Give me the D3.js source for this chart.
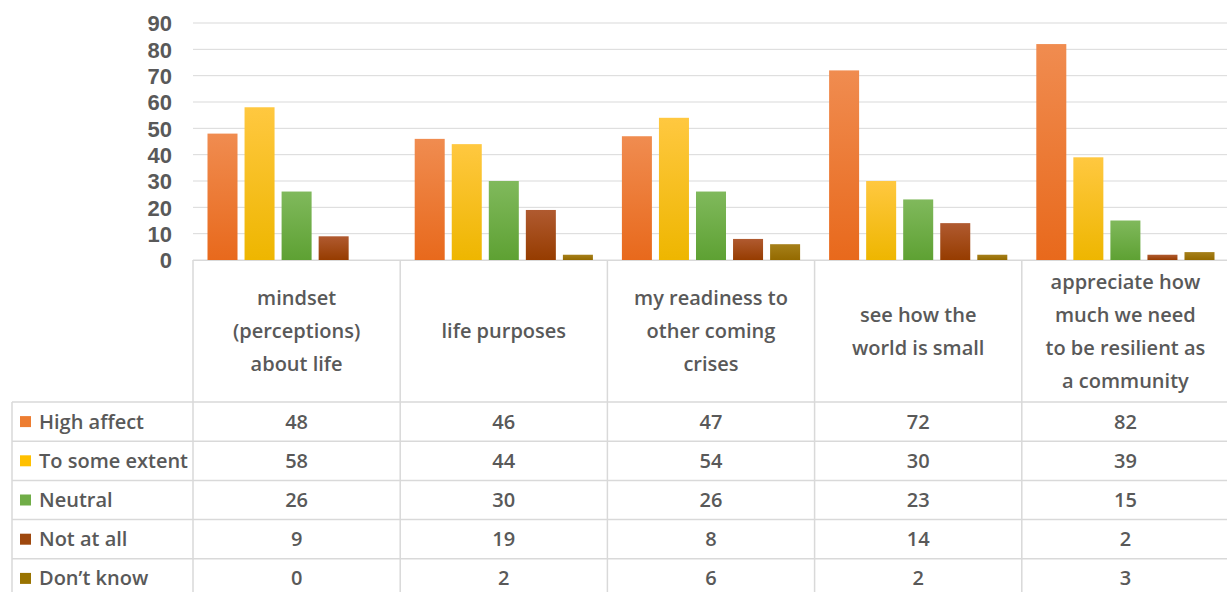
<!DOCTYPE html>
<html><head><meta charset="utf-8">
<script src="https://cdn.jsdelivr.net/npm/d3@7/dist/d3.min.js"></script>
<style>
body{margin:0;background:#fff;overflow:hidden;}
svg{display:block;}
text{font-family:"Open Sans",Lato,sans-serif;font-weight:600;fill:#595959;}
</style></head><body>
<svg id="c" width="1227" height="592"></svg>
<script>
const categories = [
  ["mindset","(perceptions)","about life"],
  ["life purposes"],
  ["my readiness to","other coming","crises"],
  ["see how the","world is small"],
  ["appreciate how","much we need","to be resilient as","a community"]
];
const seriesNames = ["High affect","To some extent","Neutral","Not at all","Don\u2019t know"];
const highAffect   = [48,46,47,72,82];
const toSomeExtent = [58,44,54,30,39];
const neutral      = [26,30,26,23,15];
const notAtAll     = [9,19,8,14,2];
const dontKnow     = [0,2,6,2,3];
const yTicks = [0,10,20,30,40,50,60,70,80,90];

const series = [highAffect,toSomeExtent,neutral,notAtAll,dontKnow];
const colors = [
  ["#F08C50","#E8691C"],
  ["#FFC840","#EEB600"],
  ["#80B95C","#5EA133"],
  ["#B05A30","#963C00"],
  ["#A6801A","#946A00"]
];
const legendColors = ["#ED7D31","#FFC000","#70AD47","#9E480E","#997300"];

const svg = d3.select("#c");
const defs = svg.append("defs");
colors.forEach((c,i)=>{
  const g = defs.append("linearGradient").attr("id","g"+i).attr("x1",0).attr("x2",0).attr("y1",0).attr("y2",1);
  g.append("stop").attr("offset","0%").attr("stop-color",c[0]);
  g.append("stop").attr("offset","100%").attr("stop-color",c[1]);
});

const plotLeft = 193, plotRight = 1229, plotTop = 23, zeroY = 260;
const x = d3.scaleBand().domain(d3.range(categories.length)).range([plotLeft,plotRight]);
const y = d3.scaleLinear().domain([0,90]).range([zeroY, plotTop]);
const inner = d3.scaleBand().domain(d3.range(series.length)).range([14.5, x.bandwidth()-14.5]).paddingInner(0.19).paddingOuter(0);

svg.append("g").selectAll("line").data(yTicks).join("line")
  .attr("x1",plotLeft).attr("x2",plotRight).attr("y1",d=>y(d)).attr("y2",d=>y(d))
  .attr("stroke","#d9d9d9").attr("stroke-width",1);

const yAxis = d3.axisLeft(y).tickValues(yTicks).tickSize(0).tickPadding(0);
const ya = svg.append("g").attr("transform","translate(172,0)").call(yAxis);
ya.select(".domain").remove();
ya.selectAll("text").attr("font-size",22).style("font-family","'Liberation Sans',Arial,sans-serif").style("font-weight",700).style("fill","#595959").attr("dy","0.36em");

series.forEach((s,si)=>{
  svg.append("g").selectAll("rect").data(s).join("rect")
    .attr("x",(d,ci)=>x(ci)+inner(si))
    .attr("width",inner.bandwidth())
    .attr("y",d=>y(d))
    .attr("height",d=>zeroY-y(d))
    .attr("fill","url(#g"+si+")");
});

const rowTop = 402, rowH = 39.2, tableLeft = 12;
const gridC = "#d9d9d9";
const tg = svg.append("g");
tg.append("line").attr("x1",plotLeft).attr("x2",plotRight).attr("y1",zeroY+0.5).attr("y2",zeroY+0.5).attr("stroke",gridC);
d3.range(series.length).forEach(i=>{
  const yy = rowTop + i*rowH;
  tg.append("line").attr("x1",tableLeft).attr("x2",plotRight).attr("y1",yy).attr("y2",yy).attr("stroke",gridC).attr("stroke-width",1.5);
});
tg.append("line").attr("x1",tableLeft).attr("x2",tableLeft).attr("y1",rowTop).attr("y2",592).attr("stroke",gridC).attr("stroke-width",1.5);
d3.range(categories.length+1).forEach(i=>{
  const xx = plotLeft + i*x.step();
  tg.append("line").attr("x1",xx).attr("x2",xx).attr("y1",zeroY).attr("y2",592).attr("stroke",gridC).attr("stroke-width",1.5);
});

categories.forEach((lines,ci)=>{
  const cx = x(ci)+x.bandwidth()/2;
  const lh = 33;
  const midY = (zeroY+rowTop)/2;
  const startY = midY - (lines.length-1)*lh/2;
  lines.forEach((ln,li)=>{
    tg.append("text").attr("x",cx).attr("y",startY+li*lh).attr("dy","0.35em")
      .attr("text-anchor","middle").attr("font-size",20).text(ln);
  });
});

seriesNames.forEach((name,si)=>{
  const cy = rowTop + si*rowH + rowH/2;
  tg.append("rect").attr("x",20).attr("y",cy-5.5).attr("width",11).attr("height",11).attr("fill",legendColors[si]);
  tg.append("text").attr("x",39).attr("y",cy).attr("dy","0.35em").attr("font-size",20).text(name);
  series[si].forEach((v,ci)=>{
    tg.append("text").attr("x",x(ci)+x.bandwidth()/2).attr("y",cy).attr("dy","0.35em")
      .attr("text-anchor","middle").attr("font-size",20).text(v);
  });
});
</script></body></html>
